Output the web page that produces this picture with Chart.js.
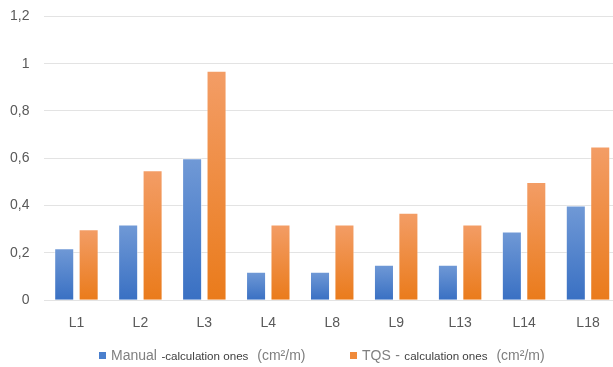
<!DOCTYPE html>
<html>
<head>
<meta charset="utf-8">
<script src="https://cdn.jsdelivr.net/npm/chart.js@4.4.1/dist/chart.umd.min.js"></script>
<style>
  html, body { margin: 0; padding: 0; background: #ffffff; overflow: hidden; }
  #wrap { position: relative; width: 622px; height: 367px; overflow: hidden; }
  #c { position: absolute; left: 0; top: -7px; }
  #legend {
    position: absolute; left: 0; top: 346px; width: 613px; height: 20px;
    font-family: "Liberation Sans", "DejaVu Sans", sans-serif; white-space: nowrap;
  }
  .item { position: absolute; top: 0; }
  .sw { display: inline-block; width: 7px; height: 7px; margin-right: 5px; vertical-align: 1px; }
  .big { font-size: 14px; color: #7f7f7f; }
  .small { font-size: 11.6px; color: #404040; }
</style>
</head>
<body>
<div id="wrap">
  <canvas id="c" width="622" height="374"></canvas>
  <div id="legend">
    <span class="item" style="left:99px"><span class="sw" style="background:#4a7fcd"></span><span class="big">Manual</span> <span class="small">-calculation ones</span>&nbsp; <span class="big">(cm²/m)</span></span>
    <span class="item" style="left:350px"><span class="sw" style="background:#f08a3a"></span><span class="big">TQS</span> <span class="big">-</span> <span class="small">calculation ones</span>&nbsp; <span class="big">(cm²/m)</span></span>
  </div>
</div>
<script>
// Sections along the x axis
const categories = ['L1', 'L2', 'L3', 'L4', 'L8', 'L9', 'L13', 'L14', 'L18'];
// Reinforcement area per section, cm²/m
const manualValues = [0.22, 0.32, 0.60, 0.12, 0.12, 0.15, 0.15, 0.29, 0.40];
const tqsValues = [0.30, 0.55, 0.97, 0.32, 0.32, 0.37, 0.32, 0.50, 0.65];
// Y axis tick values
const yTicks = [0, 0.2, 0.4, 0.6, 0.8, 1, 1.2];

// Vertical gradient for each bar: lighter at the top, deeper at the base
function barGradient(topColor, bottomColor) {
  return function (ctx) {
    const chart = ctx.chart;
    const y = chart.scales && chart.scales.y;
    if (!chart.chartArea || !y || ctx.raw === undefined) return bottomColor;
    const top = y.getPixelForValue(ctx.raw);
    const base = y.getPixelForValue(0);
    if (!isFinite(top) || !isFinite(base) || top === base) return bottomColor;
    const g = chart.ctx.createLinearGradient(0, top, 0, base);
    g.addColorStop(0, topColor);
    g.addColorStop(1, bottomColor);
    return g;
  };
}

const fmt = v => String(Math.round(v * 10) / 10).replace('.', ',');

new Chart(document.getElementById('c'), {
  type: 'bar',
  data: {
    labels: categories,
    datasets: [
      {
        label: 'Manual -calculation ones (cm²/m)',
        data: manualValues,
        backgroundColor: barGradient('#7099d6', '#3970c3'),
        borderColor: 'rgba(255,255,255,0.45)',
        borderWidth: 1,
        categoryPercentage: 0.764,
        barPercentage: 0.82
      },
      {
        label: 'TQS - calculation ones (cm²/m)',
        data: tqsValues,
        backgroundColor: barGradient('#f39d66', '#ea7b1b'),
        borderColor: 'rgba(255,255,255,0.45)',
        borderWidth: 1,
        categoryPercentage: 0.764,
        barPercentage: 0.82
      }
    ]
  },
  options: {
    responsive: false,
    animation: false,
    layout: { padding: { left: -5, right: 2, top: 0, bottom: 20 } },
    plugins: {
      legend: { display: false },
      tooltip: { enabled: false }
    },
    scales: {
      x: {
        grid: { display: false, drawTicks: false },
        border: { display: false },
        ticks: {
          color: '#595959',
          padding: 15,
          font: { family: 'Liberation Sans', size: 14 }
        }
      },
      y: {
        min: 0,
        max: 1.2,
        afterBuildTicks: axis => { axis.ticks = yTicks.map(v => ({ value: v })); },
        grid: { color: '#e3e3e3', lineWidth: 1, drawTicks: false },
        border: { display: false },
        ticks: {
          color: '#595959',
          padding: 15,
          font: { family: 'Liberation Sans', size: 14 },
          callback: v => fmt(v)
        }
      }
    }
  }
});
</script>
</body>
</html>
